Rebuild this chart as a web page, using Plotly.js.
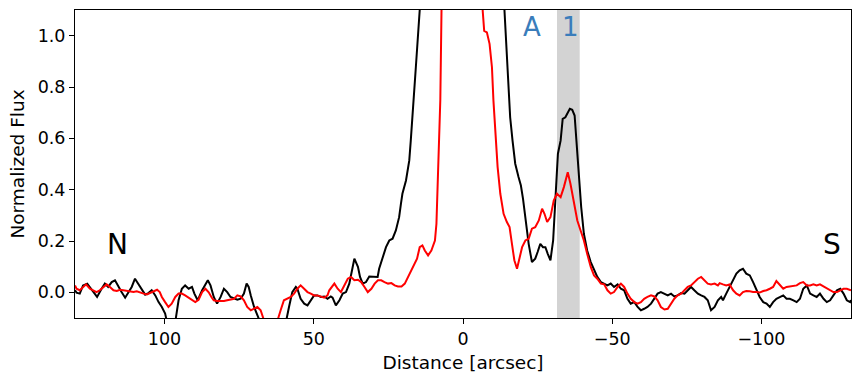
<!DOCTYPE html>
<html>
<head>
<meta charset="utf-8">
<script src="https://cdn.plot.ly/plotly-3.0.1.min.js"></script>
<style>
  html, body { margin: 0; padding: 0; background: #fff; }
  #plot { width: 860px; height: 381px; }
</style>
</head>
<body>
<div id="plot"></div>
<script>
// Distance along the slit (arcsec) and normalized flux
const xNegro = [130, 129.5, 128.4, 127.3, 125.9, 125.0, 123.9, 122.6, 121.1, 120.0,
    118.9, 117.7, 116.6, 115.5, 114.4, 113.2, 112.1, 111.0, 109.9, 108.8,
    107.6, 106.5, 105.4, 104.3, 103.1, 102.0, 100.9, 99.8, 99.2, 97.8,
    96.4, 95.3, 94.2, 93.1, 91.9, 90.8, 90.0, 88.9, 87.4, 86.3,
    85.5, 84.6, 83.5, 82.4, 81.2, 80.1, 79.0, 77.9, 76.7, 75.6,
    74.5, 73.4, 72.5, 71.8, 71.1, 70.0, 68.9, 67.8, 66.0, 63.0,
    61.0, 59.4, 58.3, 57.2, 56.0, 55.5, 54.4, 53.2, 52.1, 51.0,
    49.9, 48.8, 47.6, 46.5, 45.4, 44.3, 43.7, 42.6, 41.4, 40.3,
    39.2, 38.1, 37.0, 36.4, 35.2, 34.5, 33.6, 32.5, 31.4, 29.7,
    28.6, 28.1, 26.9, 25.8, 24.7, 23.6, 22.5, 21.4, 20.8, 20.3,
    19.1, 18.0, 17.5, 16.7, 15.8, 14.5, 12, 8, 4, 0,
    -4, -8, -12, -13.9, -14.7, -15.3, -15.8, -16.6, -17.5, -18.6,
    -19.4, -20.1, -20.9, -22.0, -23.1, -24.2, -25.0, -25.9, -26.8, -27.6,
    -28.4, -29.3, -30.2, -31.0, -31.8, -32.7, -33.4, -34.3, -34.9, -35.8,
    -36.6, -37.4, -38.0, -38.8, -39.6, -40.5, -41.6, -42.8, -43.9, -45.0,
    -46.2, -47.3, -48.4, -49.5, -50.6, -51.8, -52.9, -54.0, -55.1, -56.2,
    -57.4, -58.5, -59.6, -60.7, -61.8, -63.0, -64.1, -65.2, -66.3, -67.5,
    -68.6, -69.7, -70.8, -71.9, -73.1, -74.2, -75.3, -76.4, -77.5, -78.7,
    -79.8, -80.9, -82.0, -83.1, -84.3, -85.4, -86.5, -87.1, -88.2, -89.3,
    -90.5, -91.6, -92.7, -93.8, -94.9, -96.1, -97.2, -98.3, -99.4, -100.6,
    -101.7, -102.8, -103.9, -105.0, -106.2, -107.3, -108.4, -109.5, -110.7, -111.8,
    -112.9, -114.0, -115.2, -116.3, -117.4, -118.5, -119.6, -120.8, -121.9, -123.0,
    -124.1, -125.3, -126.4, -127.5, -128.6, -129.7, -130];
const fluxoNegro = [0.008, -0.001, -0.005, 0.027, 0.034, 0.021, 0.001, -0.018, 0.014, 0.034,
    0.021, 0.040, 0.047, 0.021, 0.001, -0.021, 0.001, 0.021, 0.053, 0.034,
    0.008, -0.009, -0.003, 0.008, -0.012, -0.038, -0.057, -0.083, -0.115, -0.16,
    -0.115, -0.031, 0.014, 0.027, 0.014, 0.021, -0.005, -0.031, 0.008, 0.034,
    0.047, 0.027, -0.018, -0.044, -0.018, 0.014, 0.001, -0.018, -0.025, -0.029,
    -0.025, -0.005, 0.034, 0.021, -0.012, -0.057, -0.089, -0.12, -0.2, -0.25,
    -0.18, -0.12, -0.057, 0.001, 0.021, 0.014, -0.025, -0.044, -0.051, -0.031,
    -0.012, -0.012, -0.018, -0.016, -0.025, -0.016, -0.021, -0.051, -0.031, -0.005,
    0.001, 0.034, 0.099, 0.131, 0.099, 0.060, 0.034, 0.040, 0.062, 0.060,
    0.060, 0.092, 0.138, 0.176, 0.202, 0.209, 0.241, 0.293, 0.345, 0.384,
    0.436, 0.514, 0.591, 0.747, 0.877, 1.1, 1.8, 3.0, 4.5, 5.0,
    4.5, 3.0, 1.6, 1.097, 0.942, 0.812, 0.682, 0.591, 0.501, 0.449,
    0.416, 0.365, 0.293, 0.189, 0.118, 0.131, 0.157, 0.189, 0.176, 0.176,
    0.150, 0.125, 0.202, 0.358, 0.540, 0.591, 0.676, 0.682, 0.695, 0.715,
    0.711, 0.689, 0.591, 0.462, 0.332, 0.228, 0.163, 0.118, 0.086, 0.060,
    0.040, 0.034, 0.027, 0.034, 0.021, 0.031, 0.014, 0.008, -0.025, -0.044,
    -0.038, -0.057, -0.070, -0.064, -0.057, -0.044, -0.025, -0.005, 0.001, -0.005,
    -0.012, -0.005, -0.016, -0.012, -0.003, -0.005, 0.010, 0.021, 0.008, -0.005,
    -0.012, -0.018, -0.031, -0.070, -0.057, -0.031, -0.018, -0.031, -0.005, 0.021,
    0.053, 0.073, 0.086, 0.092, 0.073, 0.066, 0.040, 0.014, -0.018, -0.038,
    -0.044, -0.057, -0.038, -0.025, -0.018, -0.012, -0.025, -0.025, -0.031, -0.038,
    -0.025, 0.014, 0.027, -0.005, -0.012, -0.018, -0.005, -0.025, -0.038, -0.031,
    -0.012, 0.008, 0.014, -0.005, -0.031, -0.038, -0.03];

const xVermelho = [130, 129.5, 128.4, 127.3, 126.3, 125.0, 123.9, 122.8, 121.7, 120.5,
    119.4, 118.3, 117.1, 116.0, 114.9, 113.8, 112.6, 111.5, 110.4, 109.3,
    108.2, 107.0, 105.9, 104.8, 103.7, 102.5, 101.6, 100.9, 99.8, 98.7,
    97.6, 96.4, 95.3, 94.2, 93.1, 91.9, 90.8, 89.7, 88.6, 87.4,
    86.3, 85.2, 84.2, 83.5, 82.4, 81.2, 80.1, 79.0, 77.9, 76.7,
    75.6, 74.5, 73.4, 72.3, 71.1, 70.0, 68.9, 67.8, 66.7, 65.5,
    64.0, 62.5, 61.1, 60.0, 58.8, 57.7, 56.6, 55.5, 54.4, 53.2,
    52.1, 51.0, 49.9, 48.8, 47.6, 46.5, 45.4, 44.8, 43.1, 42.0,
    40.9, 39.7, 38.6, 37.5, 36.4, 35.2, 34.1, 33.0, 31.9, 30.7,
    29.6, 28.5, 27.4, 26.3, 25.1, 24.0, 22.9, 21.8, 20.6, 19.5,
    18.4, 17.3, 16.1, 15.4, 14.5, 13.6, 12.8, 11.7, 10.6, 9.4,
    8.9, 8.5, 8.3, 8.1, 7.6, 7.2, 5, 2, 0, -3,
    -5.5, -6.6, -7.1, -8.0, -8.9, -9.7, -10.2, -10.8, -11.6, -12.5,
    -13.6, -14.7, -15.6, -16.4, -17.2, -18.1, -19.0, -19.8, -20.9, -22.0,
    -23.1, -24.2, -25.4, -26.5, -27.3, -28.2, -29.3, -30.4, -31.5, -32.7,
    -33.8, -35.1, -36.0, -37.1, -38.3, -39.4, -40.5, -41.6, -42.8, -43.9,
    -45.0, -46.2, -47.3, -48.4, -49.5, -50.6, -51.8, -52.9, -54.0, -55.1,
    -56.2, -57.4, -58.5, -59.6, -60.7, -61.8, -63.0, -64.1, -65.2, -66.3,
    -67.5, -68.6, -69.7, -70.8, -71.9, -73.1, -74.2, -75.3, -76.4, -77.5,
    -78.7, -79.8, -80.9, -82.0, -83.1, -84.3, -85.4, -86.0, -87.1, -88.2,
    -89.3, -90.5, -91.6, -92.7, -93.8, -94.9, -96.1, -97.2, -98.3, -99.4,
    -100.6, -101.7, -102.8, -103.9, -105.0, -106.2, -107.3, -108.4, -109.5, -110.7,
    -111.8, -112.9, -114.0, -115.2, -116.3, -117.4, -118.5, -119.6, -120.8, -121.9,
    -123.0, -124.1, -125.3, -126.4, -127.5, -128.6, -129.7, -130];
const fluxoVermelho = [0.027, 0.014, 0.008, 0.021, 0.031, 0.014, 0.008, 0.001, 0.008, 0.021,
    0.031, 0.021, 0.008, 0.005, 0.010, 0.008, 0.005, 0.001, 0.001, 0.004,
    -0.001, -0.005, -0.008, -0.003, 0.005, 0.010, 0.001, -0.018, -0.038, -0.057,
    -0.044, -0.018, -0.005, -0.005, -0.012, -0.021, -0.029, -0.038, -0.029, 0.001,
    0.014, 0.0, -0.02, -0.031, -0.034, -0.034, -0.034, -0.031, -0.029, -0.025,
    -0.012, -0.016, -0.031, -0.057, -0.070, -0.064, -0.057, -0.070, -0.109, -0.15,
    -0.18, -0.12, -0.070, -0.031, -0.025, -0.018, -0.005, 0.014, 0.027, 0.014,
    0.001, -0.005, -0.012, -0.012, -0.018, -0.021, -0.012, 0.008, 0.034, 0.014,
    0.001, 0.027, 0.053, 0.060, 0.047, 0.049, 0.040, 0.021, 0.001, 0.014,
    0.034, 0.047, 0.047, 0.040, 0.034, 0.036, 0.027, 0.023, 0.023, 0.034,
    0.060, 0.092, 0.118, 0.131, 0.176, 0.183, 0.163, 0.144, 0.163, 0.202,
    0.267, 0.397, 0.527, 0.591, 0.75, 1.1, 2.2, 3.0, 3.2, 2.8,
    1.6, 1.097, 1.019, 1.013, 0.968, 0.877, 0.747, 0.618, 0.488, 0.384,
    0.306, 0.274, 0.254, 0.189, 0.125, 0.092, 0.137, 0.176, 0.202, 0.209,
    0.248, 0.254, 0.280, 0.326, 0.306, 0.274, 0.293, 0.358, 0.384, 0.371,
    0.410, 0.468, 0.423, 0.358, 0.280, 0.241, 0.202, 0.150, 0.099, 0.066,
    0.053, 0.034, 0.031, 0.008, -0.005, 0.001, 0.021, 0.034, 0.021, -0.005,
    -0.025, -0.038, -0.044, -0.038, -0.025, -0.018, -0.012, -0.016, -0.031, -0.057,
    -0.067, -0.064, -0.044, -0.025, -0.012, -0.005, 0.008, 0.021, 0.027, 0.040,
    0.053, 0.060, 0.047, 0.034, 0.031, 0.034, 0.027, 0.036, 0.031, 0.027,
    0.031, 0.008, -0.005, -0.012, 0.001, 0.005, 0.004, 0.001, 0.001, -0.001,
    0.005, 0.008, 0.014, 0.021, 0.044, 0.027, 0.014, 0.021, 0.023, 0.027,
    0.027, 0.036, 0.040, 0.027, 0.027, 0.031, 0.027, 0.031, 0.023, 0.014,
    0.008, 0.001, 0.001, 0.008, 0.014, 0.014, 0.008, 0.008];

const faixaFonte = [-31.5, -39.1];   // shaded region of source 1
const ticksX = [100, 50, 0, -50, -100];
const ticksY = [0, 0.2, 0.4, 0.6, 0.8, 1.0];

const fonte = 'DejaVu Sans, Liberation Sans, sans-serif';
const azul = '#3a7dbb';

const data = [{
    x: xNegro,
    y: fluxoNegro,
    type: 'scatter',
    mode: 'lines',
    line: { color: '#000000', width: 2 },
    hoverinfo: 'skip'
}, {
    x: xVermelho,
    y: fluxoVermelho,
    type: 'scatter',
    mode: 'lines',
    line: { color: '#ff0000', width: 2 },
    hoverinfo: 'skip'
}];

const layout = {
    width: 860,
    height: 381,
    margin: { l: 75, r: 9, t: 10, b: 63 },
    paper_bgcolor: '#ffffff',
    plot_bgcolor: '#ffffff',
    showlegend: false,
    font: { family: fonte, color: '#000000' },
    xaxis: {
        range: [130, -130],
        tickvals: ticksX,
        ticks: 'outside',
        ticklen: 5,
        tickwidth: 1,
        tickcolor: '#000',
        showline: true,
        mirror: true,
        linecolor: '#000',
        linewidth: 1,
        showgrid: false,
        zeroline: false,
        tickfont: { size: 17.5 },
        title: { text: 'Distance [arcsec]', font: { size: 18.5 }, standoff: 8 }
    },
    yaxis: {
        range: [-0.1, 1.1],
        tickvals: ticksY,
        tickformat: '.1f',
        ticks: 'outside',
        ticklen: 5,
        tickwidth: 1,
        tickcolor: '#000',
        showline: true,
        mirror: true,
        linecolor: '#000',
        linewidth: 1,
        showgrid: false,
        zeroline: false,
        tickfont: { size: 17.5 },
        title: { text: 'Normalized Flux', font: { size: 18.5 }, standoff: 8 }
    },
    shapes: [{
        type: 'rect',
        xref: 'x', yref: 'paper',
        x0: faixaFonte[0], x1: faixaFonte[1],
        y0: 0, y1: 1,
        fillcolor: '#d3d3d3',
        line: { width: 0 },
        layer: 'below'
    }],
    annotations: [
        { x: 120, y: 0.187, text: 'N', xanchor: 'left', yanchor: 'middle', showarrow: false, font: { size: 28, color: '#000' } },
        { x: -119.8, y: 0.185, text: 'S', xanchor: 'left', yanchor: 'middle', showarrow: false, font: { size: 28, color: '#000' } },
        { x: -23.1, y: 1.034, text: 'A', xanchor: 'center', yanchor: 'middle', showarrow: false, font: { size: 26, color: azul } },
        { x: -35.9, y: 1.034, text: '1', xanchor: 'center', yanchor: 'middle', showarrow: false, font: { size: 26, color: azul } }
    ]
};

Plotly.newPlot('plot', data, layout, { staticPlot: true, displayModeBar: false });
</script>
</body>
</html>
